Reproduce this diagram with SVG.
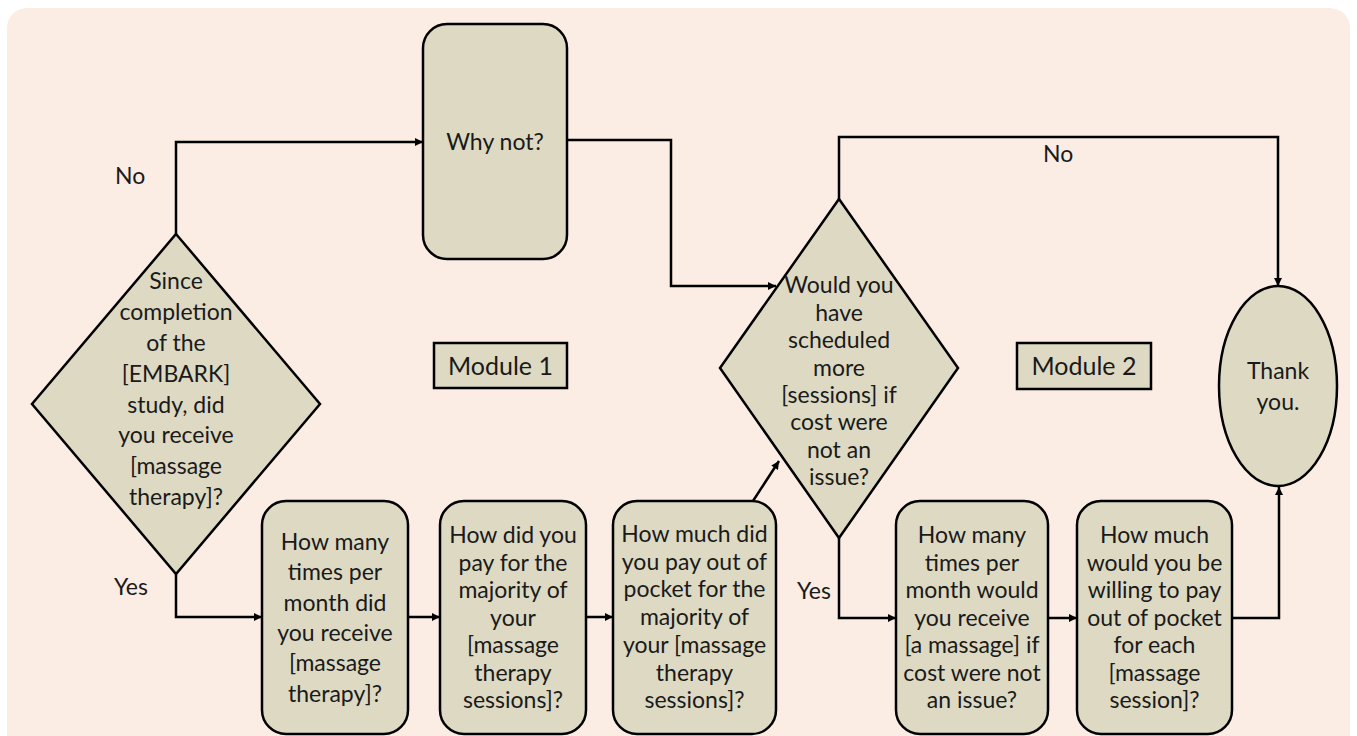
<svg xmlns="http://www.w3.org/2000/svg" width="1357" height="736" viewBox="0 0 1357 736">
<defs>
<marker id="arr" viewBox="0 0 10 10" refX="10" refY="5" markerWidth="10" markerHeight="8" markerUnits="userSpaceOnUse" orient="auto"><path d="M0,0 L10,5 L0,10 z" fill="#000"/></marker>
<style>
.shape{fill:#ddd9c3;stroke:#000;stroke-width:2.5}
.t{font-family:Lato,"Open Sans","Liberation Sans",sans-serif;font-size:23px;fill:#1a1a1a;text-anchor:middle}
.lbl{font-family:Lato,"Open Sans","Liberation Sans",sans-serif;font-size:23px;fill:#1a1a1a}
.mod{font-family:Lato,"Open Sans","Liberation Sans",sans-serif;font-size:25px;fill:#1a1a1a;text-anchor:middle}
.c{fill:none;stroke:#000;stroke-width:2.5}
</style>
</defs>
<rect x="7" y="8" width="1343" height="760" rx="20" fill="#fbede3"/>
<g id="connectors">
<path class="c" d="M176,234 V142 H423" marker-end="url(#arr)"/>
<path class="c" d="M567,140 H671 V286 H776" marker-end="url(#arr)"/>
<path class="c" d="M839,199 V137 H1278 V286" marker-end="url(#arr)"/>
<path class="c" d="M176,574 V617 H262" marker-end="url(#arr)"/>
<path class="c" d="M408,617 H440" marker-end="url(#arr)"/>
<path class="c" d="M586,617 H613" marker-end="url(#arr)"/>
<path class="c" d="M753,501 L779,461" marker-end="url(#arr)"/>
<path class="c" d="M839,538 V618 H896" marker-end="url(#arr)"/>
<path class="c" d="M1048,618 H1077" marker-end="url(#arr)"/>
<path class="c" d="M1232,618 H1279 V487" marker-end="url(#arr)"/>
</g>
<g id="labels">
<text class="lbl" x="115" y="184">No</text>
<text class="lbl" x="1043" y="162">No</text>
<text class="lbl" x="114" y="595">Yes</text>
<text class="lbl" x="797" y="599">Yes</text>
</g>
<g id="q1">
<polygon class="shape" points="176,234 320,404 176,574 32,404"/>
<text class="t"><tspan x="176" y="289">Since</tspan><tspan x="176" y="320">completion</tspan><tspan x="176" y="351">of the</tspan><tspan x="176" y="382">[EMBARK]</tspan><tspan x="176" y="413">study, did</tspan><tspan x="176" y="443">you receive</tspan><tspan x="176" y="474">[massage</tspan><tspan x="176" y="505">therapy]?</tspan></text>
</g>
<g id="whynot">
<rect class="shape" x="423" y="24" width="144" height="235" rx="24"/>
<text class="t" x="495" y="150">Why not?</text>
</g>
<g id="module1">
<rect class="shape" x="434" y="343" width="133" height="45"/>
<text class="mod" x="500.5" y="375">Module 1</text>
</g>
<g id="module2">
<rect class="shape" x="1017" y="343" width="134" height="46"/>
<text class="mod" x="1084" y="375">Module 2</text>
</g>
<g id="q2">
<polygon class="shape" points="839,199 958,368 839,538 720,368"/>
<text class="t"><tspan x="839" y="293">Would you</tspan><tspan x="839" y="320.5">have</tspan><tspan x="839" y="348">scheduled</tspan><tspan x="839" y="375.5">more</tspan><tspan x="839" y="403">[sessions] if</tspan><tspan x="839" y="430">cost were</tspan><tspan x="839" y="457.5">not an</tspan><tspan x="839" y="485">issue?</tspan></text>
</g>
<g id="thanks">
<ellipse class="shape" cx="1278" cy="386" rx="59" ry="100"/>
<text class="t"><tspan x="1278" y="379">Thank</tspan><tspan x="1278" y="410">you.</tspan></text>
</g>
<g id="b1">
<rect class="shape" x="262" y="501" width="146" height="233" rx="24"/>
<text class="t"><tspan x="335" y="550">How many</tspan><tspan x="335" y="580.3">times per</tspan><tspan x="335" y="610.7">month did</tspan><tspan x="335" y="641">you receive</tspan><tspan x="335" y="671.3">[massage</tspan><tspan x="335" y="701.7">therapy]?</tspan></text>
</g>
<g id="b2">
<rect class="shape" x="440" y="501" width="146" height="233" rx="24"/>
<text class="t"><tspan x="513" y="543">How did you</tspan><tspan x="513" y="570.5">pay for the</tspan><tspan x="513" y="598">majority of</tspan><tspan x="513" y="625.5">your</tspan><tspan x="513" y="653">[massage</tspan><tspan x="513" y="680.5">therapy</tspan><tspan x="513" y="708">sessions]?</tspan></text>
</g>
<g id="b3">
<rect class="shape" x="613" y="501" width="163" height="233" rx="24"/>
<text class="t"><tspan x="694.5" y="542">How much did</tspan><tspan x="694.5" y="569.7">you pay out of</tspan><tspan x="694.5" y="597.4">pocket for the</tspan><tspan x="694.5" y="625.1">majority of</tspan><tspan x="694.5" y="652.8">your [massage</tspan><tspan x="694.5" y="680.5">therapy</tspan><tspan x="694.5" y="708.2">sessions]?</tspan></text>
</g>
<g id="b4">
<rect class="shape" x="896" y="501" width="152" height="233" rx="24"/>
<text class="t"><tspan x="972" y="543">How many</tspan><tspan x="972" y="570.5">times per</tspan><tspan x="972" y="598">month would</tspan><tspan x="972" y="625.5">you receive</tspan><tspan x="972" y="653">[a massage] if</tspan><tspan x="972" y="680.5">cost were not</tspan><tspan x="972" y="708">an issue?</tspan></text>
</g>
<g id="b5">
<rect class="shape" x="1077" y="501" width="155" height="233" rx="24"/>
<text class="t"><tspan x="1154.5" y="543">How much</tspan><tspan x="1154.5" y="570.5">would you be</tspan><tspan x="1154.5" y="598">willing to pay</tspan><tspan x="1154.5" y="625.5">out of pocket</tspan><tspan x="1154.5" y="653">for each</tspan><tspan x="1154.5" y="680.5">[massage</tspan><tspan x="1154.5" y="708">session]?</tspan></text>
</g>
</svg>
